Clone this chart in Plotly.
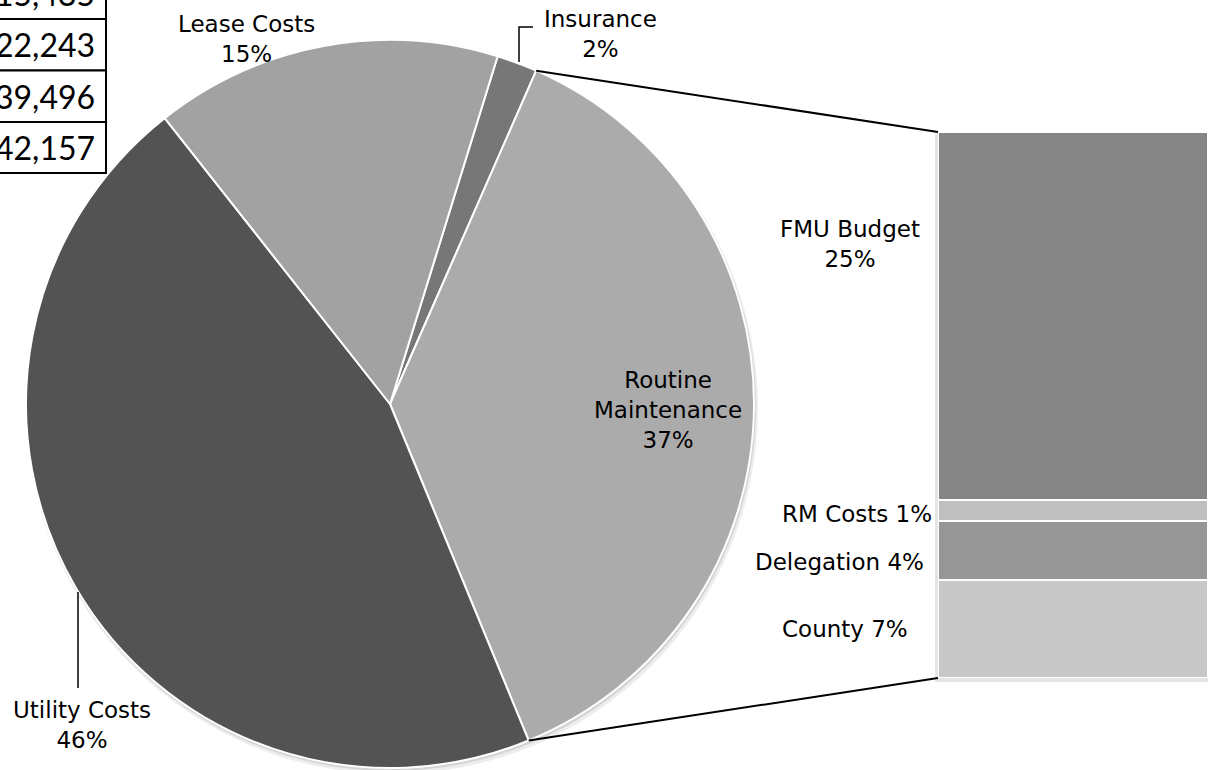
import math
import plotly.graph_objects as go

W, H = 1217, 770

# ---- data ----
pie_labels = ["Insurance", "Routine<br>Maintenance", "Utility Costs", "Lease Costs"]
pie_values = [1.8, 37.2, 45.6, 15.4]
pie_colors = ["#777777", "#ababab", "#535353", "#a2a2a2"]

bar_labels = ["FMU Budget", "RM Costs", "Delegation", "County"]
bar_values = [25.1, 1.4, 4.0, 6.7]
bar_colors = ["#858585", "#bfbfbf", "#969696", "#c8c8c8"]

table_values = ["15,435", "22,243", "39,496", "42,157"]

# ---- geometry (pixels) ----
CX, CY, R = 390, 404, 364
ROT = 17.2
BAR_X0, BAR_X1, BAR_Y0, BAR_Y1 = 938, 1208, 132, 678


def px(x):
    return x / W


def py(y):
    return 1 - y / H


total = sum(pie_values)
fig = go.Figure()

fig.add_trace(go.Pie(
    labels=pie_labels, values=pie_values, sort=False, direction="clockwise",
    rotation=ROT, textinfo="none", hoverinfo="label+percent", showlegend=False,
    marker=dict(colors=pie_colors, line=dict(color="white", width=2)),
    domain=dict(x=[px(CX - R), px(CX + R)], y=[py(CY + R), py(CY - R)]),
))

# stacked bar (bottom to top)
for lab, val, col in reversed(list(zip(bar_labels, bar_values, bar_colors))):
    fig.add_trace(go.Bar(
        x=[0], y=[val], name=lab, xaxis="x2", yaxis="y2", showlegend=False,
        marker=dict(color=col, line=dict(color="white", width=2)),
        hoverinfo="name+y",
    ))

shapes = []
# shadows
for off, r_add, op in [(4, 2, 0.07), (2, 1, 0.10)]:
    shapes.append(dict(type="circle", xref="paper", yref="paper", layer="below",
                       x0=px(CX - R - r_add + off * 0.5), x1=px(CX + R + r_add + off * 0.5),
                       y0=py(CY + R + r_add + off), y1=py(CY - R - r_add + off),
                       fillcolor=f"rgba(0,0,0,{op})", line=dict(width=0)))
shapes.append(dict(type="rect", xref="paper", yref="paper", layer="below",
                   x0=px(BAR_X0 - 3), x1=px(BAR_X1), y0=py(BAR_Y1 + 4), y1=py(BAR_Y0 + 1),
                   fillcolor="rgba(0,0,0,0.10)", line=dict(width=0)))

# connector lines from the Routine Maintenance slice edges to the bar
cum = 0
angles = []
for v in pie_values:
    angles.append((ROT + cum / total * 360, ROT + (cum + v) / total * 360))
    cum += v
a0, a1 = angles[1]


def on_circle(a):
    r = math.radians(a)
    return CX + R * math.sin(r), CY - R * math.cos(r)


p0 = on_circle(a0)
p1 = on_circle(a1)
for (x, y), (bx, by) in [(p0, (BAR_X0, BAR_Y0)), (p1, (BAR_X0, BAR_Y1))]:
    shapes.append(dict(type="line", xref="paper", yref="paper",
                       x0=px(x), y0=py(y), x1=px(bx), y1=py(by),
                       line=dict(color="black", width=2)))

# leader lines
shapes.append(dict(type="path", xref="paper", yref="paper",
                   path=f"M {px(533)},{py(27)} L {px(519)},{py(27)} L {px(519)},{py(62)}",
                   line=dict(color="black", width=1.5)))
shapes.append(dict(type="line", xref="paper", yref="paper",
                   x0=px(78), y0=py(592), x1=px(78), y1=py(688),
                   line=dict(color="black", width=1.5)))

# table boxes (cropped at left edge)
rows = [-33, 19, 70.5, 122, 173]
for i in range(len(table_values)):
    shapes.append(dict(type="rect", xref="paper", yref="paper",
                       x0=px(-60), x1=px(106), y0=py(rows[i + 1]), y1=py(rows[i]),
                       fillcolor="white", line=dict(color="black", width=2)))

annotations = []
FONT = dict(family="DejaVu Sans", size=23, color="black")
for i, t in enumerate(table_values):
    annotations.append(dict(xref="paper", yref="paper", x=px(97), y=py((rows[i] + rows[i + 1]) / 2),
                            xanchor="right", yanchor="middle", showarrow=False, text=t,
                            font=dict(family="Lato", size=32, color="black")))

pie_label_pos = [(600, 34), (668, 410), (82, 725), (246, 39)]
for lab, v, (x, y) in zip(pie_labels, pie_values, pie_label_pos):
    annotations.append(dict(xref="paper", yref="paper", x=px(x), y=py(y),
                            xanchor="center", yanchor="middle", showarrow=False,
                            text=f"{lab}<br>{round(v / total * 100)}%", font=FONT))

bar_label_pos = [(850, 244, "<br>"), (857, 514, " "), (839, 562, " "), (845, 629, " ")]
for lab, v, (x, y, sep) in zip(bar_labels, bar_values, bar_label_pos):
    annotations.append(dict(xref="paper", yref="paper", x=px(x), y=py(y),
                            xanchor="center", yanchor="middle", showarrow=False,
                            text=f"{lab}{sep}{round(v / total * 100)}%", font=FONT))

fig.update_layout(
    width=W, height=H, margin=dict(l=0, r=0, t=0, b=0),
    paper_bgcolor="white", plot_bgcolor="white",
    barmode="stack", bargap=0,
    xaxis2=dict(domain=[px(BAR_X0), px(BAR_X1)], anchor="y2", visible=False, range=[-0.5, 0.5]),
    yaxis2=dict(domain=[py(BAR_Y1), py(BAR_Y0)], anchor="x2", visible=False, range=[0, sum(bar_values)]),
    shapes=shapes, annotations=annotations,
)

fig.write_html("out.html", config={"displayModeBar": False},
               post_script="document.body.style.margin='0px';document.body.style.overflow='hidden';")
